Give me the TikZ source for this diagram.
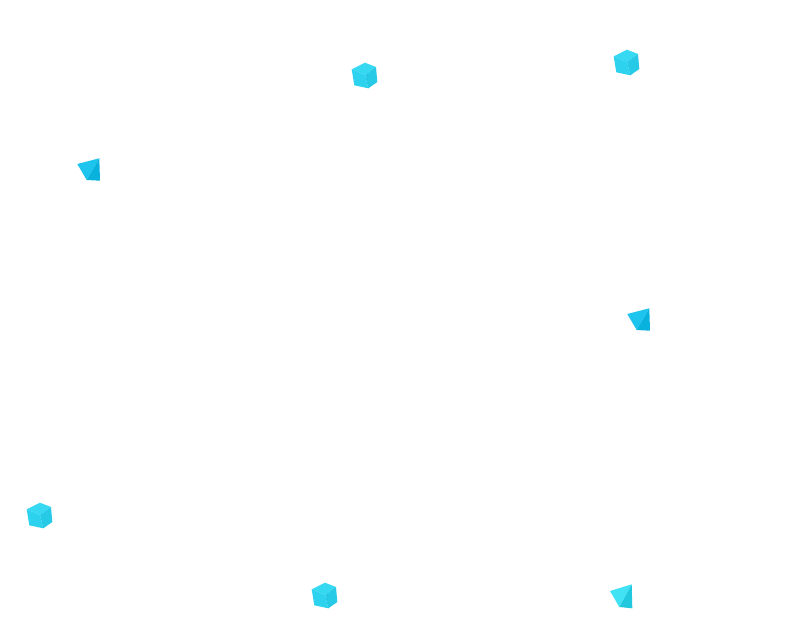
\documentclass[tikz,border=0pt]{standalone}
\definecolor{cubetop}{HTML}{36D8F2}
\definecolor{cubefront}{HTML}{2DD2EF}
\definecolor{cuberight}{HTML}{26C9E6}
\definecolor{tetleft}{HTML}{1CC4EE}
\definecolor{tetright}{HTML}{08B2DC}
\definecolor{pyrleft}{HTML}{40E2F4}
\definecolor{pyrright}{HTML}{22C8DE}
\tikzset{
  cubepic/.pic={
    \fill[cubetop] (6.7,13.3) -- (20,6.7) -- (31,11) -- (20,19) -- cycle;
    \fill[cubefront] (6.7,13.3) -- (20,19) -- (23.3,32.3) -- (9.3,29.3) -- cycle;
    \fill[cuberight] (20,19) -- (31,11) -- (32.3,26) -- (23.3,32.3) -- cycle;
  },
  tetpic/.pic={
    \fill[tetleft] (7.3,15) -- (29.3,9.3) -- (16.7,31) -- cycle;
    \fill[tetright] (29.3,9.3) -- (30,31.7) -- (16.7,31) -- cycle;
  },
  pyrpic/.pic={
    \fill[pyrleft] (10,15) -- (31.7,8.3) -- (19.3,31) -- cycle;
    \fill[pyrright] (31.7,8.3) -- (32.3,32.3) -- (19.3,31) -- cycle;
  }
}
\begin{document}
\begin{tikzpicture}[x=1pt,y=-1pt]
\useasboundingbox (0,0) rectangle (797,637);
\fill[white] (0,0) rectangle (797,637);
\pic at (345,56) {cubepic};
\pic at (607,43) {cubepic};
\pic at (20,496) {cubepic};
\pic at (305,576) {cubepic};
\pic at (70,149) {tetpic};
\pic at (620,299) {tetpic};
\pic at (600,576) {pyrpic};
\end{tikzpicture}
\end{document}
